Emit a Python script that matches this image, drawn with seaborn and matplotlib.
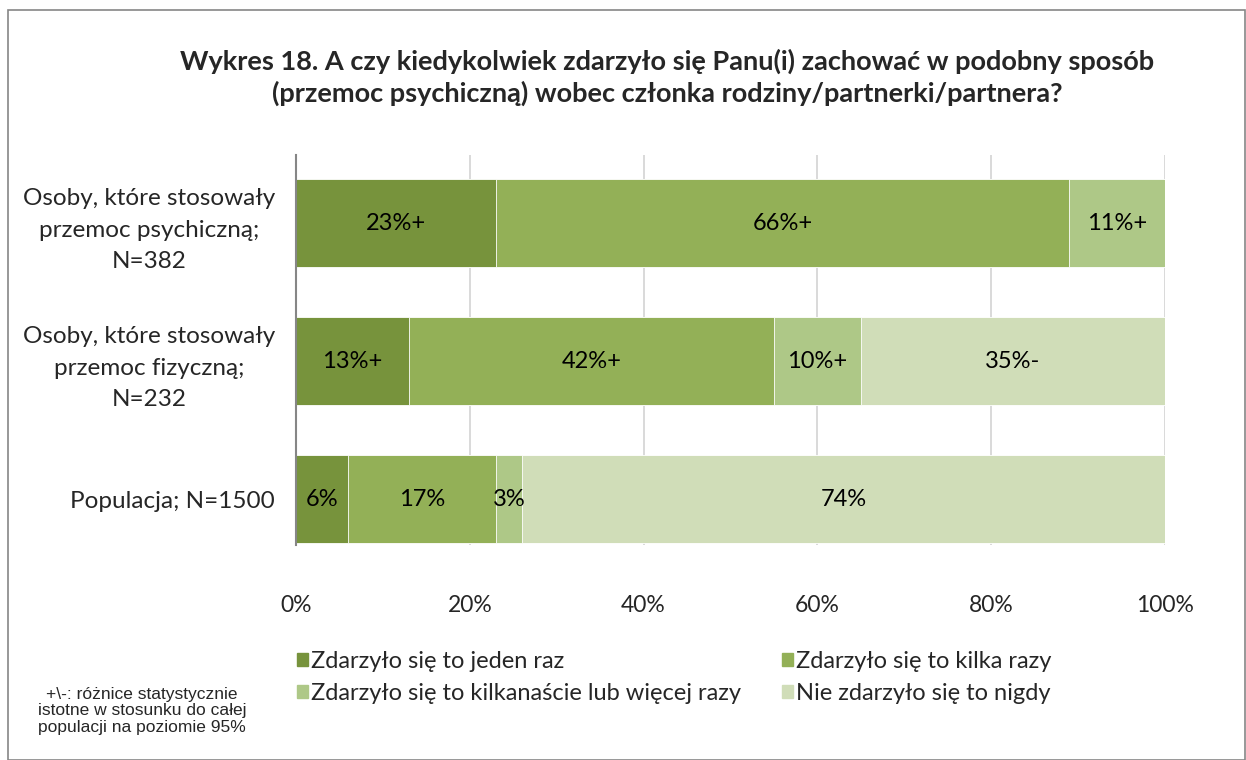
import numpy as np
import pandas as pd
import seaborn as sns
import matplotlib.pyplot as plt
from matplotlib.patches import Rectangle

# ================= dane =================
groups = ["Osoby, które stosowały\nprzemoc psychiczną;\nN=382",
          "Osoby, które stosowały\nprzemoc fizyczną;\nN=232",
          "Populacja; N=1500"]
series = ["Zdarzyło się to jeden raz",
          "Zdarzyło się to kilka razy",
          "Zdarzyło się to kilkanaście lub więcej razy",
          "Nie zdarzyło się to nigdy"]
jeden_raz = [23, 13, 6]
kilka_razy = [66, 42, 17]
kilkanascie = [11, 10, 3]
nigdy = [0, 35, 74]
labels_jeden = ["23%+", "13%+", "6%"]
labels_kilka = ["66%+", "42%+", "17%"]
labels_kilkanascie = ["11%+", "10%+", "3%"]
labels_nigdy = ["", "35%-", "74%"]

colors = ["#77933C", "#93B057", "#AEC887", "#D0DDB8"]

sns.set_style("white")
plt.rcParams['font.family'] = ['Lato', 'DejaVu Sans']

fig = plt.figure(figsize=(12.46, 7.6), dpi=100)
ax = fig.add_axes([296 / 1246, 1 - 545 / 760, 869 / 1246, 390 / 760])

values = [jeden_raz, kilka_razy, kilkanascie, nigdy]
texts = [labels_jeden, labels_kilka, labels_kilkanascie, labels_nigdy]
cum = np.cumsum(np.array(values), axis=0)

# stacked: rysujemy sumy skumulowane od największej
for i in range(3, -1, -1):
    df = pd.DataFrame({"grupa": groups, "val": cum[i] / 100})
    sns.barplot(data=df, x="val", y="grupa", color=colors[i], orient="h",
                width=0.64, ax=ax, edgecolor="white", linewidth=0.6, saturation=1)

for i in range(4):
    left = cum[i] - np.array(values[i])
    for j in range(3):
        if texts[i][j]:
            ax.text((left[j] + values[i][j] / 2) / 100, j, texts[i][j],
                    ha="center", va="center", fontsize=17, color="#000000")

ax.set_xlim(0, 1)
ax.set_ylim(2.333, -0.493)
ax.set_xticks(np.arange(0, 1.01, 0.2))
ax.set_xticklabels([f"{int(v * 100)}%" for v in np.arange(0, 1.01, 0.2)], fontsize=16.5)
ax.set_yticks(range(3))
ax.set_yticklabels(groups, fontsize=17.5, multialignment="center", linespacing=1.62)
ax.set_xlabel("")
ax.set_ylabel("")
ax.tick_params(axis="x", length=0, pad=36)
ax.tick_params(axis="y", length=0, pad=15)
ax.grid(axis="x", color="#D9D9D9", linewidth=1.4)
ax.set_axisbelow(True)
for s in ["top", "right", "bottom"]:
    ax.spines[s].set_visible(False)
ax.spines["left"].set_color("#868686")
ax.spines["left"].set_linewidth(1.5)
ax.spines["left"].set_zorder(5)

fig.text(0.5357, 1 - 77.5 / 760, "Wykres 18. A czy kiedykolwiek zdarzyło się Panu(i) zachować w podobny sposób\n"
         "(przemoc psychiczną) wobec członka rodziny/partnerki/partnera?",
         ha="center", va="center", fontsize=19.5, fontweight="bold", linespacing=1.3)

handles = [Rectangle((0, 0), 1, 1, color=c) for c in colors]
for col, x0 in [(0, 297), (1, 782)]:
    leg = fig.legend([handles[col], handles[col + 2]], [series[col], series[col + 2]],
                     loc="upper left", bbox_to_anchor=(x0 / 1246, 1 - 651 / 760),
                     frameon=False, fontsize=17, handlelength=0.45, handleheight=0.45,
                     handletextpad=0.15, labelspacing=0.45, borderpad=0, borderaxespad=0)

fig.text(142 / 1246, 1 - 711 / 760, "+\\-: różnice statystycznie\nistotne w stosunku do całej\npopulacji na poziomie 95%",
         ha="center", va="center", fontsize=12.5, family=["Liberation Sans", "DejaVu Sans"], linespacing=1.15)

fig.patches.append(Rectangle((8 / 1246, 0), 1 - 9 / 1246, 1 - 10 / 760, transform=fig.transFigure,
                             fill=False, edgecolor="#868686", linewidth=1.2))

fig.savefig("out.png", dpi=100)
